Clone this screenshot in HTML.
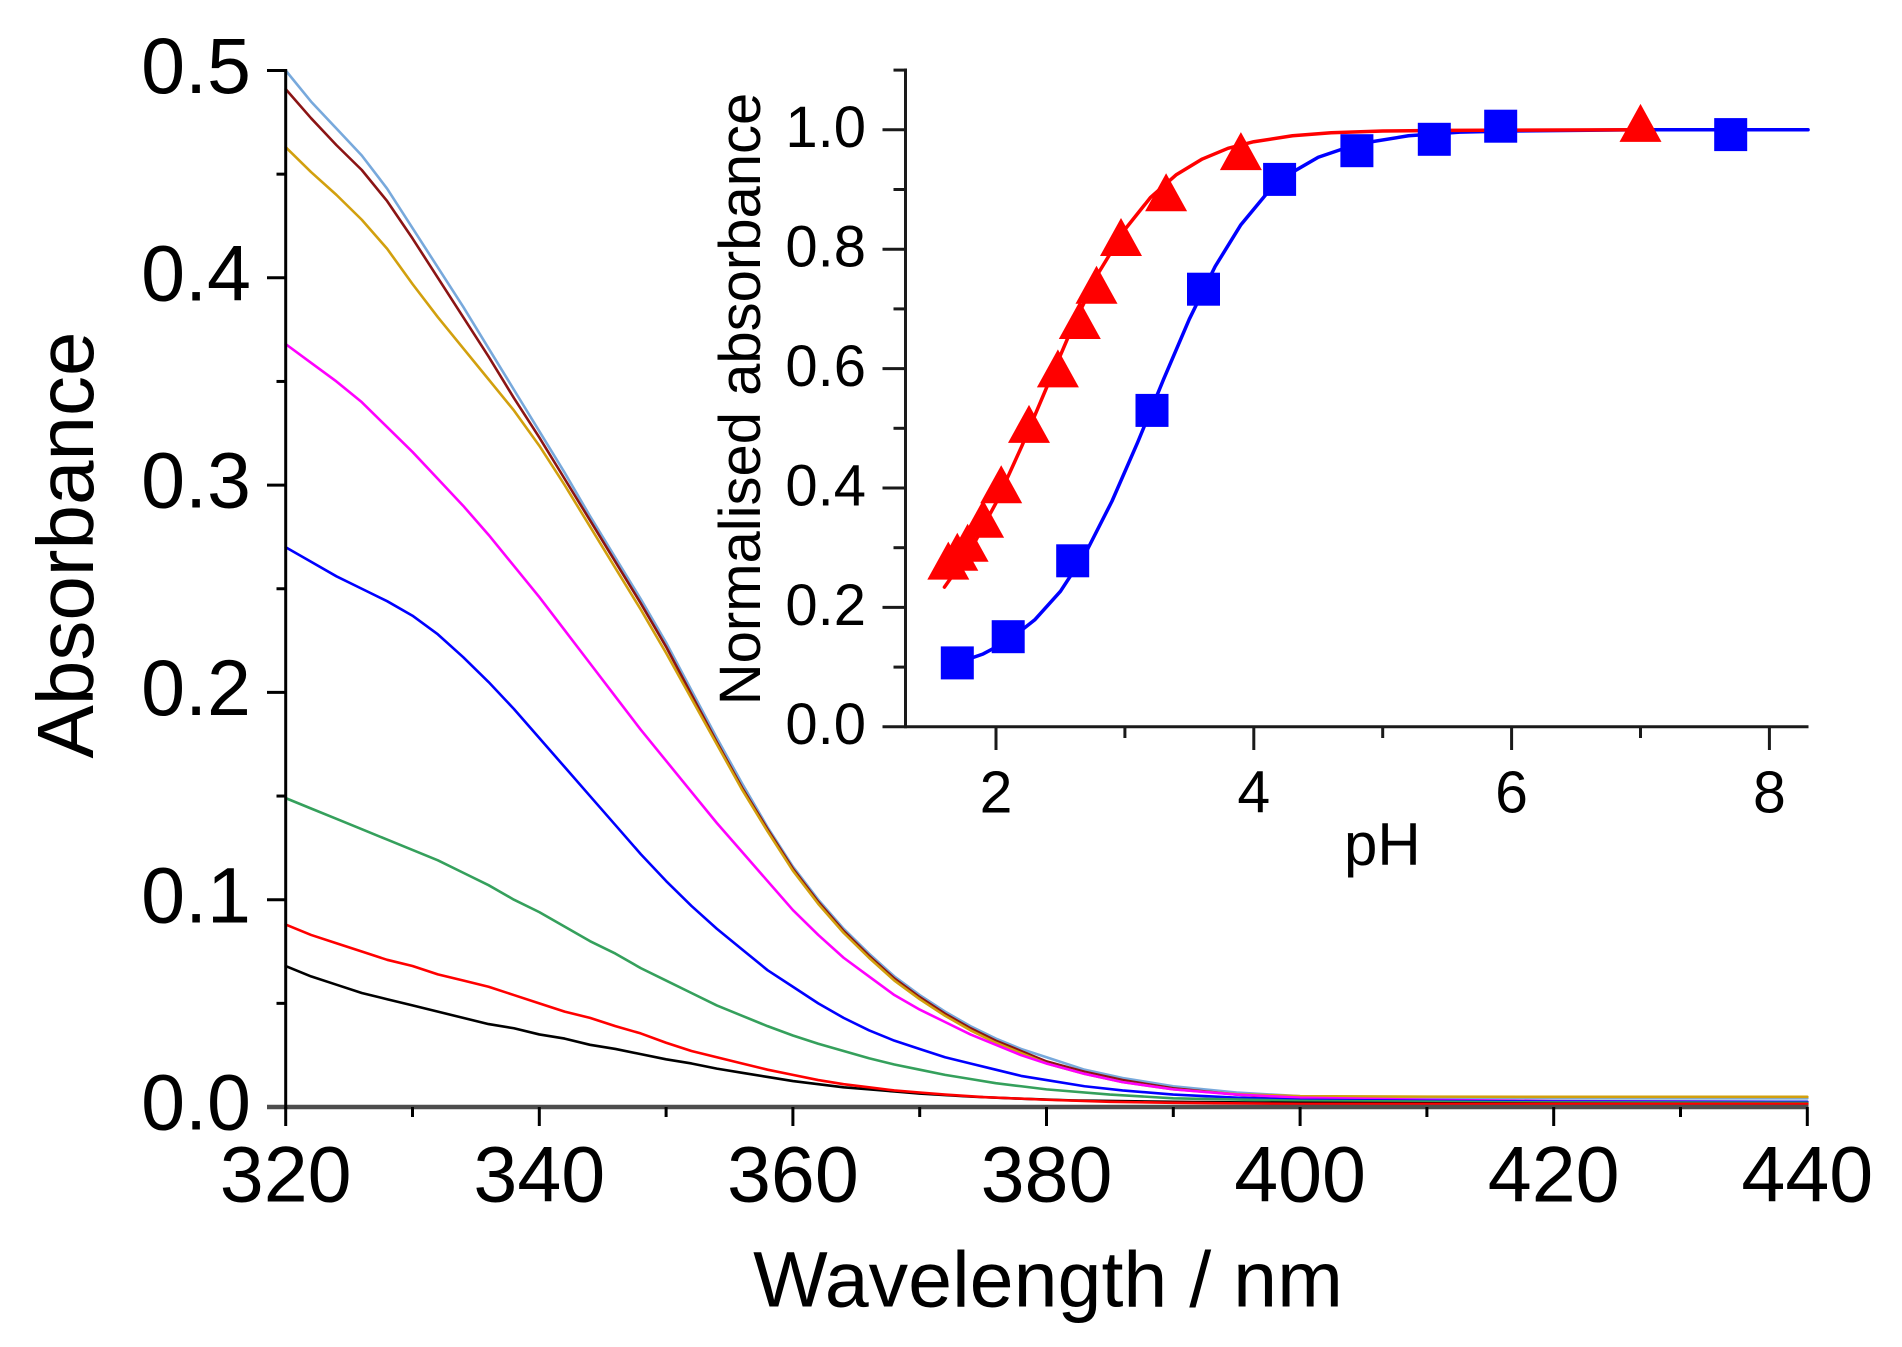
<!DOCTYPE html>
<html>
<head>
<meta charset="utf-8">
<style>
html,body{margin:0;padding:0;background:#fff;}
svg{display:block;}
text{font-family:"Liberation Sans",Arial,sans-serif;fill:#000;}
</style>
</head>
<body>
<svg width="1902" height="1347" viewBox="0 0 1902 1347" xmlns="http://www.w3.org/2000/svg">
<rect width="1902" height="1347" fill="#fff"/>

<!-- ===== MAIN PLOT CURVES ===== -->
<g transform="translate(285.7,1107) scale(12.68,-2.073)" fill="none" stroke-linejoin="round" stroke-linecap="round">
<!-- light blue -->
<polyline vector-effect="non-scaling-stroke" stroke="#78A9DC" stroke-width="2.6" points="0,500 2,485 4,472 6,459 8,443 10,424 12,405 14,386 16,366 18,346 20,326 22,306 24,285 26,265 28,245 30,224 32,201 34,178 36,156 38,135 40,116 42,100 44,86 46,74 48,63 50,54 52,46 54,39 56,33 58,28 60,24 63,18 66,14 70,10 75,7 80,5.2 85,4.6 90,4.3 100,4.2 120,4.2"/>
<!-- brown -->
<polyline vector-effect="non-scaling-stroke" stroke="#8B1414" stroke-width="2.6" points="0,491 2,477 4,464 6,452 8,437 10,419 12,400 14,381 16,362 18,342 20,323 22,303 24,283 26,263 28,243 30,222 32,199 34,176 36,154 38,134 40,115 42,99 44,85 46,73 48,62 50,53 52,45 54,38 56,32 58,27 60,22 63,17 66,13 70,9 75,6 80,4 90,3 100,2.5 120,2.3"/>
<!-- gold -->
<polyline vector-effect="non-scaling-stroke" stroke="#D2A00E" stroke-width="2.6" points="0,463 2,451 4,440 6,428 8,414 10,397 12,381 14,366 16,351 18,336 20,319 22,300 24,280 26,260 28,240 30,219 32,197 34,175 36,153 38,133 40,114 42,98 44,84 46,72 48,61 50,52 52,44 54,37 56,31 58,26 60,21 63,16 66,12 70,8.5 75,6.2 80,5.2 90,5 100,4.9 120,4.9"/>
<!-- magenta -->
<polyline vector-effect="non-scaling-stroke" stroke="#FF00FF" stroke-width="2.6" points="0,368 2,359 4,350 6,340 8,328 10,316 12,303 14,290 16,276 18,261 20,246 22,230 24,214 26,198 28,182 30,167 32,152 34,137 36,123 38,109 40,95 42,83 44,72 46,63 48,54 50,47 52,41 54,35 56,30 58,25 60,21 63,16 66,12 70,8.5 75,6 80,4.5 90,3.5 100,2.8 120,2.5"/>
<!-- blue -->
<polyline vector-effect="non-scaling-stroke" stroke="#0000FF" stroke-width="2.6" points="0,270 2,263 4,256 6,250 8,244 10,237 12,228 14,217 16,205 18,192 20,178 22,164 24,150 26,136 28,122 30,109 32,97 34,86 36,76 38,66 40,58 42,50 44,43 46,37 48,32 50,28 52,24 54,21 56,18 58,15 60,13 63,10 66,8 70,6 75,4.5 80,3.5 90,3 100,2.6 120,2.5"/>
<!-- green -->
<polyline vector-effect="non-scaling-stroke" stroke="#35A05C" stroke-width="2.6" points="0,149 2,144 4,139 6,134 8,129 10,124 12,119 14,113 16,107 18,100 20,94 22,87 24,80 26,74 28,67 30,61 32,55 34,49 36,44 38,39 40,34.5 42,30.5 44,27 46,23.5 48,20.5 50,18 52,15.5 54,13.5 56,11.5 58,10 60,8.5 65,6 70,4.2 80,3 100,2.2 120,2"/>
<!-- black -->
<polyline vector-effect="non-scaling-stroke" stroke="#000000" stroke-width="2.6" points="0,68 2,63 4,59 6,55 8,52 10,49 12,46 14,43 16,40 18,38 20,35 22,33 24,30 26,28 28,25.5 30,23 32,21 34,18.5 36,16.5 38,14.5 40,12.5 42,11 44,9.5 46,8.5 48,7.5 50,6.5 54,5 58,4 62,3.2 70,2.5 80,2 100,1.6 120,1.5"/>
<!-- red -->
<polyline vector-effect="non-scaling-stroke" stroke="#FF0000" stroke-width="2.6" points="0,88 2,83 4,79 6,75 8,71 10,68 12,64 14,61 16,58 18,54 20,50 22,46 24,43 26,39 28,35.5 30,31 32,27 34,24 36,21 38,18 40,15.5 42,13 44,11 46,9.5 48,8 50,7 52,6 55,4.8 60,3.5 65,2.5 70,2 80,1.5 100,1.5 120,1.5"/>
</g>

<!-- ===== MAIN AXES ===== -->
<line x1="267" y1="1107" x2="1808.5" y2="1107" stroke="#4d4d4d" stroke-width="4.5"/>
<line x1="285.7" y1="69" x2="285.7" y2="1109" stroke="#000" stroke-width="3"/>
<g stroke="#000" stroke-width="3">
  <line x1="267" y1="70.5" x2="285.7" y2="70.5"/>
  <line x1="267" y1="277.8" x2="285.7" y2="277.8"/>
  <line x1="267" y1="485.1" x2="285.7" y2="485.1"/>
  <line x1="267" y1="692.4" x2="285.7" y2="692.4"/>
  <line x1="267" y1="899.7" x2="285.7" y2="899.7"/>
  <line x1="276.5" y1="174.15" x2="285.7" y2="174.15"/>
  <line x1="276.5" y1="381.45" x2="285.7" y2="381.45"/>
  <line x1="276.5" y1="588.75" x2="285.7" y2="588.75"/>
  <line x1="276.5" y1="796.05" x2="285.7" y2="796.05"/>
  <line x1="276.5" y1="1003.35" x2="285.7" y2="1003.35"/>
  <line x1="285.7" y1="1107" x2="285.7" y2="1126"/>
  <line x1="539.3" y1="1107" x2="539.3" y2="1126"/>
  <line x1="792.9" y1="1107" x2="792.9" y2="1126"/>
  <line x1="1046.5" y1="1107" x2="1046.5" y2="1126"/>
  <line x1="1300.1" y1="1107" x2="1300.1" y2="1126"/>
  <line x1="1553.7" y1="1107" x2="1553.7" y2="1126"/>
  <line x1="1807.3" y1="1107" x2="1807.3" y2="1126"/>
  <line x1="412.5" y1="1107" x2="412.5" y2="1117"/>
  <line x1="666.1" y1="1107" x2="666.1" y2="1117"/>
  <line x1="919.7" y1="1107" x2="919.7" y2="1117"/>
  <line x1="1173.3" y1="1107" x2="1173.3" y2="1117"/>
  <line x1="1426.9" y1="1107" x2="1426.9" y2="1117"/>
  <line x1="1680.5" y1="1107" x2="1680.5" y2="1117"/>
</g>

<g font-size="79" text-anchor="end">
  <text x="251" y="93.1">0.5</text>
  <text x="251" y="300.4">0.4</text>
  <text x="251" y="507.7">0.3</text>
  <text x="251" y="715">0.2</text>
  <text x="251" y="922.3">0.1</text>
  <text x="251" y="1129.6">0.0</text>
</g>
<g font-size="79" text-anchor="middle">
  <text x="285.7" y="1201.7">320</text>
  <text x="539.3" y="1201.7">340</text>
  <text x="792.9" y="1201.7">360</text>
  <text x="1046.5" y="1201.7">380</text>
  <text x="1300.1" y="1201.7">400</text>
  <text x="1553.7" y="1201.7">420</text>
  <text x="1807.3" y="1201.7">440</text>
</g>
<text x="1048" y="1306.5" font-size="79" text-anchor="middle">Wavelength / nm</text>
<text transform="translate(93,545) rotate(-90)" font-size="80" text-anchor="middle">Absorbance</text>

<!-- ===== INSET ===== -->
<line x1="882.5" y1="726.8" x2="1808.5" y2="726.8" stroke="#1a1a1a" stroke-width="3"/>
<line x1="905.5" y1="68.5" x2="905.5" y2="728.3" stroke="#1a1a1a" stroke-width="3"/>
<g stroke="#1a1a1a" stroke-width="3">
  <line x1="882.5" y1="129.8" x2="905.5" y2="129.8"/>
  <line x1="882.5" y1="249.2" x2="905.5" y2="249.2"/>
  <line x1="882.5" y1="368.6" x2="905.5" y2="368.6"/>
  <line x1="882.5" y1="488" x2="905.5" y2="488"/>
  <line x1="882.5" y1="607.4" x2="905.5" y2="607.4"/>
  <line x1="893.5" y1="70.1" x2="905.5" y2="70.1"/>
  <line x1="893.5" y1="189.5" x2="905.5" y2="189.5"/>
  <line x1="893.5" y1="308.9" x2="905.5" y2="308.9"/>
  <line x1="893.5" y1="428.3" x2="905.5" y2="428.3"/>
  <line x1="893.5" y1="547.7" x2="905.5" y2="547.7"/>
  <line x1="893.5" y1="667.1" x2="905.5" y2="667.1"/>
  <line x1="996" y1="726.8" x2="996" y2="750"/>
  <line x1="1253.8" y1="726.8" x2="1253.8" y2="750"/>
  <line x1="1511.6" y1="726.8" x2="1511.6" y2="750"/>
  <line x1="1769.4" y1="726.8" x2="1769.4" y2="750"/>
  <line x1="1124.9" y1="726.8" x2="1124.9" y2="738"/>
  <line x1="1382.7" y1="726.8" x2="1382.7" y2="738"/>
  <line x1="1640.5" y1="726.8" x2="1640.5" y2="738"/>
</g>
<g font-size="58" text-anchor="end">
  <text x="866" y="147.2">1.0</text>
  <text x="866" y="266.6">0.8</text>
  <text x="866" y="386">0.6</text>
  <text x="866" y="505.4">0.4</text>
  <text x="866" y="624.8">0.2</text>
  <text x="866" y="744.2">0.0</text>
</g>
<g font-size="59" text-anchor="middle">
  <text x="996" y="812.7">2</text>
  <text x="1253.8" y="812.7">4</text>
  <text x="1511.6" y="812.7">6</text>
  <text x="1769.4" y="812.7">8</text>
</g>
<text x="1344" y="865" font-size="60">pH</text>
<text transform="translate(760,399) rotate(-90)" font-size="58" text-anchor="middle">Normalised absorbance</text>

<!-- inset fit curves -->
<g transform="translate(738.2,726.8) scale(128.9,-0.597)" fill="none" stroke-linejoin="round" stroke-linecap="round">
<polyline vector-effect="non-scaling-stroke" stroke="#0000FF" stroke-width="3.5" points="1.7,107 1.9,122 2.1,145 2.3,179 2.5,227 2.7,293 2.9,378 3.1,477 3.3,582 3.5,683 3.7,771 3.9,841 4.1,893 4.3,929 4.5,954 4.8,976 5.2,990 5.6,996 6.0,998 7.0,1000 8.3,1000"/>
<polyline vector-effect="non-scaling-stroke" stroke="#FF0000" stroke-width="3.5" points="1.6,234 1.8,295 2.0,375 2.2,470 2.4,572 2.6,673 2.8,762 3.0,833 3.2,887 3.4,925 3.6,951 3.8,969 4.0,980 4.3,990 4.6,995 5.0,998 5.5,999 7.0,1000"/>
</g>

<!-- squares -->
<g fill="#0000FF">
  <rect x="940.8" y="646.4" width="33" height="33"/>
  <rect x="991.7" y="620.2" width="33" height="33"/>
  <rect x="1056.2" y="544.3" width="33" height="33"/>
  <rect x="1135.5" y="393.9" width="33" height="33"/>
  <rect x="1187" y="272.7" width="33" height="33"/>
  <rect x="1263.1" y="162.9" width="33" height="33"/>
  <rect x="1340.4" y="134.2" width="33" height="33"/>
  <rect x="1417.8" y="122.8" width="33" height="33"/>
  <rect x="1484.2" y="109.7" width="33" height="33"/>
  <rect x="1714.2" y="118.1" width="33" height="33"/>
</g>
<!-- triangles -->
<g fill="#FF0000">
  <polygon points="927.3,579.6 969.3,579.6 948.3,541.6"/>
  <polygon points="936.3,570.7 978.3,570.7 957.3,532.7"/>
  <polygon points="946.6,561.7 988.6,561.7 967.6,523.7"/>
  <polygon points="962.1,537.8 1004.1,537.8 983.1,499.8"/>
  <polygon points="980.2,503.2 1022.2,503.2 1001.2,465.2"/>
  <polygon points="1008,442.9 1050,442.9 1029,404.9"/>
  <polygon points="1036.9,387.4 1078.9,387.4 1057.9,349.4"/>
  <polygon points="1058.8,339 1100.8,339 1079.8,301"/>
  <polygon points="1075.5,303.8 1117.5,303.8 1096.5,265.8"/>
  <polygon points="1100,256 1142,256 1121,218"/>
  <polygon points="1145.1,211.3 1187.1,211.3 1166.1,173.3"/>
  <polygon points="1219.9,170.1 1261.9,170.1 1240.9,132.1"/>
  <polygon points="1619.5,141.9 1661.5,141.9 1640.5,103.9"/>
</g>
</svg>
</body>
</html>
